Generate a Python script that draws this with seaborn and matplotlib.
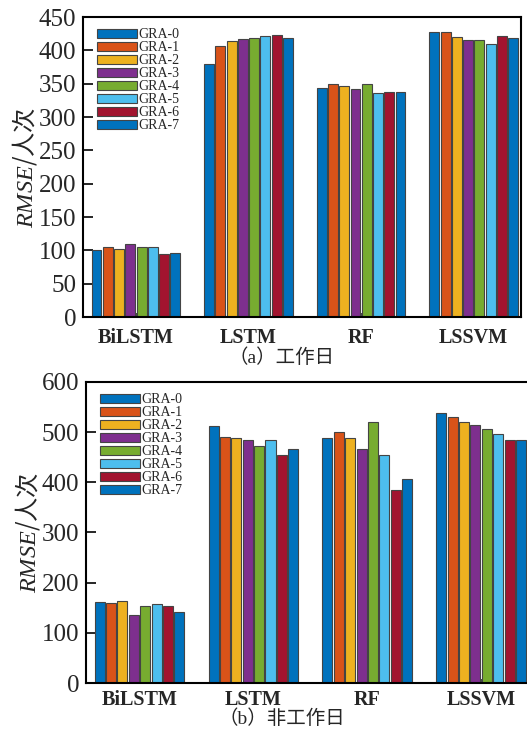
import numpy as np
import pandas as pd
import matplotlib
matplotlib.use("Agg")
import matplotlib.pyplot as plt
import seaborn as sns

models = ["BiLSTM", "LSTM", "RF", "LSSVM"]
series = ["GRA-0", "GRA-1", "GRA-2", "GRA-3", "GRA-4", "GRA-5", "GRA-6", "GRA-7"]

# (a) 工作日, rows = models, columns = GRA-0..GRA-7
rmse_work = [
    [100, 105, 102, 110, 105, 105, 94, 96],
    [379, 406, 414, 417, 418, 422, 423, 418],
    [344, 350, 346, 342, 350, 336, 338, 337],
    [428, 428, 420, 416, 416, 409, 422, 418],
]
# (b) 非工作日
rmse_rest = [
    [161, 160, 163, 136, 153, 158, 153, 142],
    [513, 490, 488, 484, 472, 485, 454, 466],
    [489, 501, 489, 466, 520, 454, 385, 407],
    [538, 530, 520, 515, 507, 497, 485, 485],
]

palette = ["#0072BD", "#D95319", "#EDB120", "#7E2F8E",
           "#77AC30", "#4DBEEE", "#A2142F", "#0072BD"]

sns.set_style("ticks")
plt.rcParams["font.family"] = ["Liberation Serif", "Noto Sans CJK SC", "DejaVu Sans"]
plt.rcParams["mathtext.fontset"] = "custom"
plt.rcParams["mathtext.it"] = "Liberation Serif:italic"
plt.rcParams["mathtext.rm"] = "Liberation Serif"


def to_long(vals):
    rows = []
    for m, row in zip(models, vals):
        for s, v in zip(series, row):
            rows.append({"model": m, "series": s, "rmse": v})
    return pd.DataFrame(rows)


fig = plt.figure(figsize=(5.27, 7.33), dpi=100)
ax1 = fig.add_axes([0.1575, 0.5675, 0.8311, 0.4093])
ax2 = fig.add_axes([0.1632, 0.0682, 0.8406, 0.4107])

specs = [
    (ax1, rmse_work, 450, 50, "（a）工作日", 1 - 358 / 733, 8),
    (ax2, rmse_rest, 600, 100, "（b）非工作日", 1 - 719 / 733, 5),
]

for ax, vals, ymax, step, cap, cap_y, xpad in specs:
    df = to_long(vals)
    sns.barplot(data=df, x="model", y="rmse", hue="series", palette=palette,
                order=models, hue_order=series, width=0.8, gap=0.12,
                saturation=1, edgecolor="#444444", linewidth=0.8, ax=ax)
    ax.set_ylim(0, ymax)
    ax.set_yticks(np.arange(0, ymax + 1, step))
    ax.set_xlim(-0.47, 3.42)
    ax.set_xlabel(cap, fontsize=14, va="center")
    ax.xaxis.set_label_coords(282 / 527, cap_y, transform=fig.transFigure)
    ax.set_ylabel(r"$\mathit{RMSE}$/人次", fontsize=17.5, labelpad=0,
                  family="Noto Sans CJK SC")
    ax.tick_params(axis="y", direction="in", length=7, width=1.4,
                   labelsize=18, right=False, pad=5)
    ax.tick_params(axis="x", direction="in", length=3, width=1.2,
                   labelsize=14.5, pad=xpad)
    for lab in ax.get_xticklabels():
        lab.set_fontweight("bold")
    for sp in ax.spines.values():
        sp.set_visible(True)
        sp.set_linewidth(1.5)
        sp.set_color("black")
    ax.legend(loc="upper left", bbox_to_anchor=(0.013, 0.99), frameon=False,
              fontsize=10, handlelength=2.85, handleheight=0.7,
              labelspacing=0.0, handletextpad=0.15, borderaxespad=0.2)

fig.savefig("out.png", dpi=100)
